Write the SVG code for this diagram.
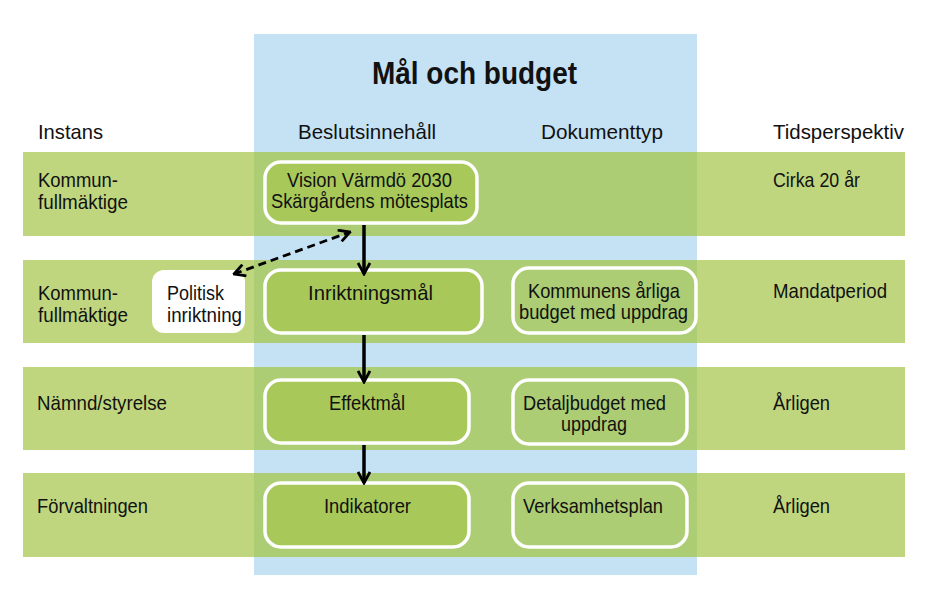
<svg xmlns="http://www.w3.org/2000/svg" width="945" height="607" viewBox="0 0 945 607">
<defs>
<style>
text{font-family:"Liberation Sans",Arial,sans-serif;font-size:21px;fill:#111;}
.t{font-size:32px;font-weight:bold;}
.band{fill:#c0d67e;}
.bandin{fill:#accd73;}
.node{fill:#a8c95a;stroke:#fff;stroke-width:3.5;}
.doc{fill:none;stroke:#fff;stroke-width:3.5;}
.solid{stroke:#000;stroke-width:3.5;fill:none;}
.dash{stroke:#000;stroke-width:2.8;fill:none;stroke-dasharray:8 5;}
</style>
<marker id="ah" viewBox="0 0 14 14" refX="12.5" refY="7" markerWidth="14" markerHeight="14" markerUnits="userSpaceOnUse" orient="auto-start-reverse">
<path d="M1.5,1 L12.5,7 L1.5,13" fill="none" stroke="#000" stroke-width="2.8"/>
</marker>
</defs>
<rect width="945" height="607" fill="#fff"/>
<rect x="254" y="34" width="443" height="541" fill="#c5e2f5"/>
<g id="bands">
<rect class="band" x="23" y="152" width="882" height="84"/>
<rect class="band" x="23" y="260" width="882" height="83"/>
<rect class="band" x="23" y="367" width="882" height="83"/>
<rect class="band" x="23" y="473" width="882" height="84"/>
<rect class="bandin" x="254" y="152" width="443" height="84"/>
<rect class="bandin" x="254" y="260" width="443" height="83"/>
<rect class="bandin" x="254" y="367" width="443" height="83"/>
<rect class="bandin" x="254" y="473" width="443" height="84"/>
</g>
<text class="t" x="372" y="84" textLength="205" lengthAdjust="spacingAndGlyphs">Mål och budget</text>
<g id="headers">
<text x="38" y="139" textLength="65" lengthAdjust="spacingAndGlyphs">Instans</text>
<text x="298" y="139" textLength="138" lengthAdjust="spacingAndGlyphs">Beslutsinnehåll</text>
<text x="541" y="139" textLength="122" lengthAdjust="spacingAndGlyphs">Dokumenttyp</text>
<text x="773" y="139" textLength="131" lengthAdjust="spacingAndGlyphs">Tidsperspektiv</text>
</g>
<g id="instans">
<text x="38" y="187" textLength="80" lengthAdjust="spacingAndGlyphs">Kommun-</text>
<text x="38" y="209" textLength="90" lengthAdjust="spacingAndGlyphs">fullmäktige</text>
<text x="38" y="300" textLength="80" lengthAdjust="spacingAndGlyphs">Kommun-</text>
<text x="38" y="322" textLength="90" lengthAdjust="spacingAndGlyphs">fullmäktige</text>
<text x="37" y="410" textLength="130" lengthAdjust="spacingAndGlyphs">Nämnd/styrelse</text>
<text x="37" y="513" textLength="111" lengthAdjust="spacingAndGlyphs">Förvaltningen</text>
</g>
<g id="tid">
<text x="773" y="187" textLength="87" lengthAdjust="spacingAndGlyphs">Cirka 20 år</text>
<text x="773" y="298" textLength="114" lengthAdjust="spacingAndGlyphs">Mandatperiod</text>
<text x="773" y="410" textLength="57" lengthAdjust="spacingAndGlyphs">Årligen</text>
<text x="773" y="513" textLength="57" lengthAdjust="spacingAndGlyphs">Årligen</text>
</g>
<g id="politisk">
<rect x="152" y="270" width="93" height="63" rx="12" fill="#fff"/>
<text x="167" y="300" textLength="57" lengthAdjust="spacingAndGlyphs">Politisk</text>
<text x="167" y="322" textLength="75" lengthAdjust="spacingAndGlyphs">inriktning</text>
</g>
<g id="vision">
<rect class="node" x="265" y="162" width="212" height="61" rx="16"/>
<text x="287" y="187" textLength="165" lengthAdjust="spacingAndGlyphs">Vision Värmdö 2030</text>
<text x="271" y="208" textLength="197" lengthAdjust="spacingAndGlyphs">Skärgårdens mötesplats</text>
</g>
<g id="inriktningsmal">
<rect class="node" x="265" y="270" width="217" height="63" rx="16"/>
<text x="308" y="300" textLength="125" lengthAdjust="spacingAndGlyphs">Inriktningsmål</text>
</g>
<g id="effektmal">
<rect class="node" x="265" y="380" width="204" height="63" rx="16"/>
<text x="329" y="410" textLength="76" lengthAdjust="spacingAndGlyphs">Effektmål</text>
</g>
<g id="indikatorer">
<rect class="node" x="265" y="483" width="204" height="64" rx="16"/>
<text x="324" y="513" textLength="87" lengthAdjust="spacingAndGlyphs">Indikatorer</text>
</g>
<g id="kommunens">
<rect class="doc" x="513" y="268" width="183" height="65" rx="16"/>
<text x="528" y="298" textLength="152" lengthAdjust="spacingAndGlyphs">Kommunens årliga</text>
<text x="519" y="319" textLength="169" lengthAdjust="spacingAndGlyphs">budget med uppdrag</text>
</g>
<g id="detaljbudget">
<rect class="doc" x="513" y="380" width="174" height="64" rx="16"/>
<text x="523" y="410" textLength="143" lengthAdjust="spacingAndGlyphs">Detaljbudget med</text>
<text x="561" y="431" textLength="66" lengthAdjust="spacingAndGlyphs">uppdrag</text>
</g>
<g id="verksamhetsplan">
<rect class="doc" x="513" y="483" width="174" height="64" rx="16"/>
<text x="523" y="513" textLength="140" lengthAdjust="spacingAndGlyphs">Verksamhetsplan</text>
</g>
<g id="connectors">
<line class="solid" x1="364" y1="225" x2="364" y2="274" marker-end="url(#ah)"/>
<line class="solid" x1="364" y1="335" x2="364" y2="382" marker-end="url(#ah)"/>
<line class="solid" x1="364" y1="445" x2="364" y2="483" marker-end="url(#ah)"/>
<line class="dash" x1="234" y1="274" x2="350" y2="232" marker-start="url(#ah)" marker-end="url(#ah)"/>
</g>
</svg>
